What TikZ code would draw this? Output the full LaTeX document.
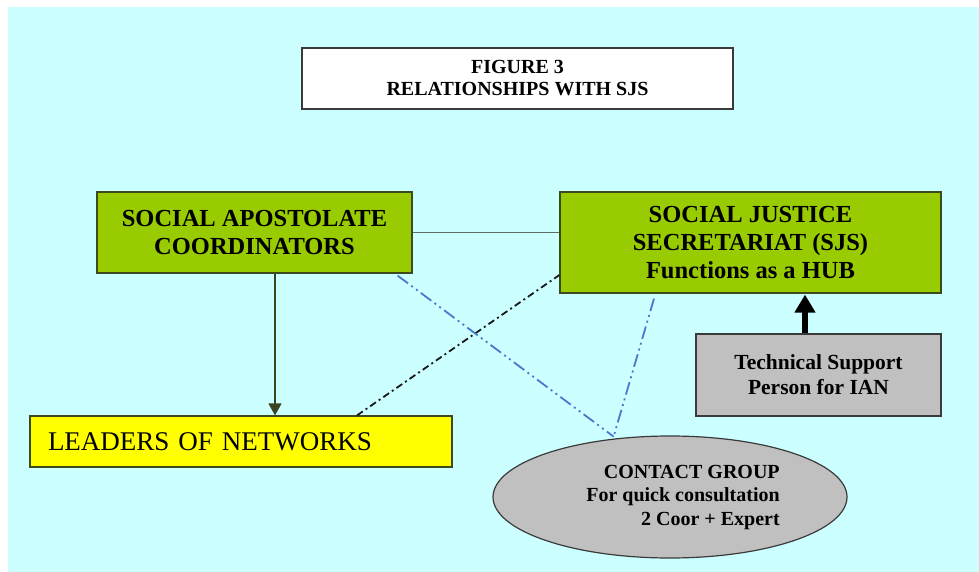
\documentclass[tikz,border=0pt]{standalone}
\usepackage{fontspec}
\setmainfont{Liberation Serif}
\usetikzlibrary{arrows.meta,shapes.geometric}
\definecolor{bgcyan}{HTML}{CCFFFF}
\definecolor{boxgreen}{HTML}{99CC00}
\definecolor{boxyellow}{HTML}{FFFF00}
\definecolor{boxgray}{HTML}{C0C0C0}
\definecolor{edgedark}{HTML}{3A3A3A}
\definecolor{greenedge}{HTML}{3C4A1E}
\definecolor{olivearrow}{HTML}{3A4420}
\definecolor{linkgray}{HTML}{5E6E62}
\definecolor{dashblue}{HTML}{4A78CC}
\tikzset{
  x={(1pt,0)}, y={(0,-1pt)},
  box/.style={draw=edgedark, line width=1.2pt, rectangle, inner sep=0pt, align=center},
  greenbox/.style={box, draw=greenedge, fill=boxgreen, font=\bfseries\fontsize{24.5}{28}\selectfont},
  graybox/.style={box, fill=boxgray},
  blueline/.style={dashblue, line width=1.8pt, dash pattern=on 13pt off 4pt on 2pt off 4pt on 2pt off 4pt},
  blackline/.style={black!90, line width=1.8pt, dash pattern=on 7pt off 3.5pt on 2pt off 3.5pt}
}
\begin{document}
\begin{tikzpicture}
\useasboundingbox (0,0) rectangle (979,572);
\fill[white] (0,0) rectangle (979,572);
\fill[bgcyan] (8,7) rectangle (985,580);

\node[box, fill=white, minimum width=431pt, minimum height=61pt,
      font=\bfseries\fontsize{20}{22}\selectfont] (title) at (517.5,78.5)
      {FIGURE 3\\RELATIONSHIPS WITH SJS};

\node[greenbox, minimum width=315pt, minimum height=81pt] (sac) at (254.5,232.5)
      {SOCIAL APOSTOLATE\\COORDINATORS};

\node[greenbox, minimum width=381pt, minimum height=101pt] (sjs) at (750.5,242.5)
      {SOCIAL JUSTICE\\SECRETARIAT (SJS)\\Functions as a HUB};

\node[graybox, minimum width=245pt, minimum height=82pt,
      font=\bfseries\fontsize{21.5}{25}\selectfont] (tech) at (818.5,375)
      {Technical Support\\Person for IAN};

\node[box, draw=greenedge, fill=boxyellow, minimum height=51pt, text width=386pt,
      inner xsep=18pt, align=left, font=\fontsize{27}{30}\selectfont] (leaders) at (241,441.5)
      {LEADERS OF NETWORKS};

\node[ellipse, draw=edgedark, line width=1.2pt, fill=boxgray, minimum width=354pt,
      minimum height=122pt, inner sep=0pt] (cg) at (670,497) {};
\node[align=right, inner sep=0pt, font=\bfseries\fontsize{20}{23.5}\selectfont] (cgtext) at (683,497.5)
      {CONTACT GROUP\\For quick consultation\\2 Coor + Expert};

% connectors
\draw[linkgray, line width=1.2pt] (sac.east) -- (sac.east -| sjs.west);
\draw[olivearrow, line width=1.4pt, -{Triangle[width=13pt,length=12pt]}]
  ([xshift=20.5pt]sac.south) -- ([xshift=20.5pt]sac.south |- leaders.north);
\draw[blackline] ([xshift=116pt]leaders.north) -- ([yshift=-32.5pt]sjs.west);
\draw[blueline] ([xshift=-15pt,yshift=-2pt]sac.south east) -- ([yshift=2pt]cg.134);
\draw[blueline] ([xshift=-96.5pt,yshift=-5pt]sjs.south) -- ([yshift=2pt]cg.134);
\draw[black, line width=6pt, -{Triangle[width=20pt,length=18pt]}]
  ([xshift=-13.5pt]tech.north) -- ([xshift=-13.5pt,yshift=-1pt]tech.north |- sjs.south);
\end{tikzpicture}
\end{document}
